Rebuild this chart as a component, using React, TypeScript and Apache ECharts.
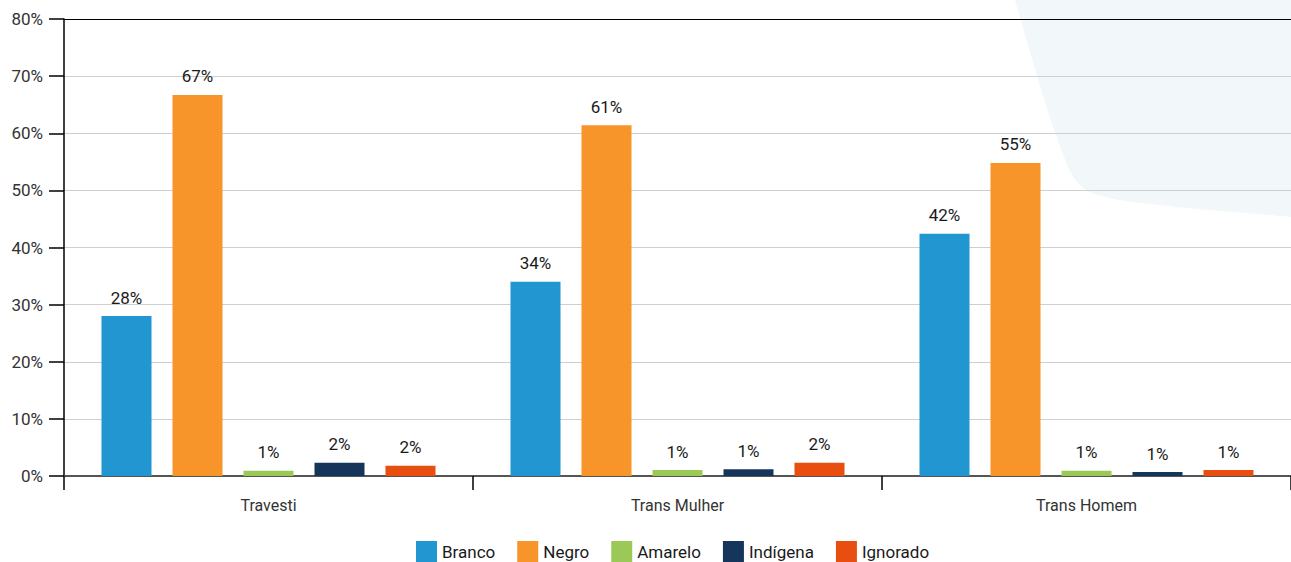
import React, { useEffect, useRef } from "react";
import * as echarts from "echarts";

const categories = ["Travesti", "Trans Mulher", "Trans Homem"];
const seriesNames = ["Branco", "Negro", "Amarelo", "Indígena", "Ignorado"];
const branco = [28.0, 34.0, 42.4];
const negro = [66.7, 61.4, 54.8];
const amarelo = [0.9, 1.05, 0.9];
const indigena = [2.3, 1.2, 0.7];
const ignorado = [1.8, 2.3, 1.05];
const colors = ["#2196d0", "#f7952b", "#9bc957", "#15355b", "#e84e10"];
const yTicks = { min: 0, max: 80, interval: 10 };

const FONT = "Roboto, 'Noto Sans', sans-serif";

echarts.graphic.registerShape(
  "bgshape",
  echarts.graphic.extendPath(
    "M1015 0 C1035 70 1055 140 1072 175 C1082 192 1095 197 1140 203 C1200 210 1250 213 1291 217 L1291 0 Z",
    {}
  )
);

export default function App() {
  const ref = useRef<HTMLDivElement>(null);
  useEffect(() => {
    document.body.style.margin = "0";
    const chart = echarts.init(ref.current!, undefined, { renderer: "svg" });
    const values = [branco, negro, amarelo, indigena, ignorado];
    const splitColors = [] as string[];
    for (let i = 0; i < 8; i++) splitColors.push("#cfcfcf");
    splitColors.push("#000000");
    chart.setOption({
      animation: false,
      textStyle: { fontFamily: FONT },
      graphic: {
        elements: [
          {
            type: "bgshape",
            x: 0,
            y: 0,
            z: -100,
            silent: true,
            style: { fill: "#f2f7fa" },
          },
        ],
      },
      grid: { left: 64, right: 0, top: 19, bottom: 86, containLabel: false },
      legend: {
        data: seriesNames,
        left: 416,
        top: 541,
        padding: 0,
        itemWidth: 21,
        itemHeight: 21,
        itemGap: 22,
        icon: "rect",
        textStyle: { fontSize: 17, color: "#1a1a1a", fontFamily: FONT },
      },
      xAxis: {
        type: "category",
        data: categories,
        axisLine: { lineStyle: { color: "#555555", width: 2 } },
        axisTick: { show: true, length: 14, lineStyle: { color: "#000000", width: 1.5 } },
        axisLabel: { fontSize: 16, color: "#333333", margin: 21, fontFamily: FONT },
      },
      yAxis: {
        type: "value",
        min: yTicks.min,
        max: yTicks.max,
        interval: yTicks.interval,
        axisLine: { show: true, lineStyle: { color: "#000000", width: 1.5 } },
        axisTick: { show: true, length: 15, lineStyle: { color: "#000000", width: 1.5 } },
        axisLabel: { formatter: "{value}%", fontSize: 17, color: "#333333", margin: 21, fontFamily: FONT },
        splitLine: { show: true, lineStyle: { color: splitColors, width: 1 } },
      },
      series: seriesNames.map((name, i) => ({
        name,
        type: "bar",
        data: values[i],
        barWidth: 50,
        barGap: "42%",
        itemStyle: { color: colors[i] },
        label: {
          show: true,
          position: "top",
          distance: 10,
          fontSize: 17,
          color: "#1a1a1a",
          fontFamily: FONT,
          formatter: (p: any) => Math.round(p.value) + "%",
        },
      })),
    });
    return () => chart.dispose();
  }, []);
  return <div ref={ref} style={{ width: 1291, height: 562 }} />;
}
